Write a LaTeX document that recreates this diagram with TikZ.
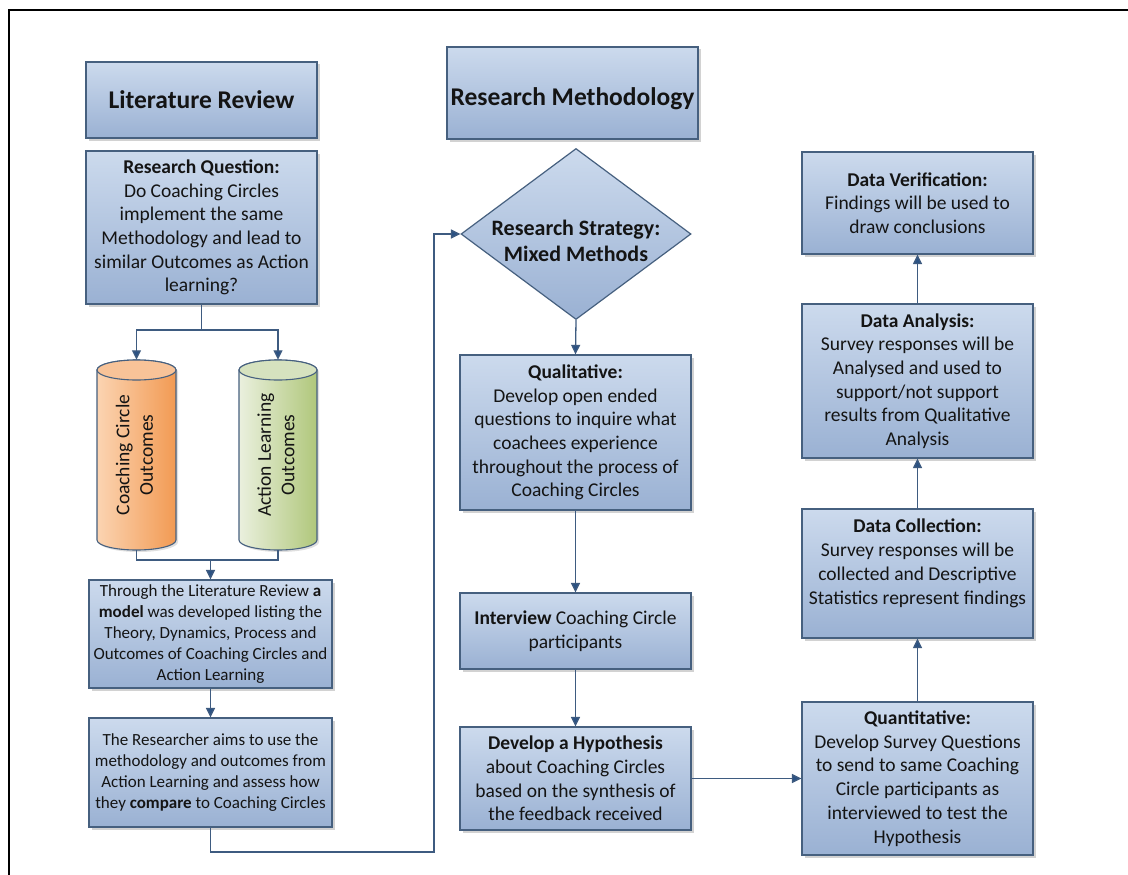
\documentclass[tikz,border=0pt]{standalone}
\usepackage{fontspec}
\usepackage{graphicx}
\setmainfont{Carlito}
\usetikzlibrary{arrows.meta,shapes.geometric,shadows,calc}

\definecolor{boxtop}{HTML}{CCDAED}
\definecolor{boxbot}{HTML}{9AB1D3}
\definecolor{edge}{HTML}{46607F}
\definecolor{wire}{HTML}{3E5B80}
\definecolor{tipc}{HTML}{2B5284}
\definecolor{txt}{HTML}{141414}
\definecolor{orL}{HTML}{FBD4B2}
\definecolor{orD}{HTML}{F29A53}
\definecolor{orC}{HTML}{F8C398}
\definecolor{grL}{HTML}{EAF0DE}
\definecolor{grD}{HTML}{B0C77B}
\definecolor{grC}{HTML}{D6E2BF}

% cylinder body: centre x, half width, light side, dark side, cap colour
\newcommand\cylshape[5]{%
  \path[draw=edge,line width=1.1pt,left color=#3,right color=#4,
        drop shadow={shadow xshift=2pt,shadow yshift=-2pt,opacity=0.25}]
    (#1-#2,370) -- (#1-#2,540) arc[start angle=180,end angle=0,x radius=#2,y radius=10]
    -- (#1+#2,370) arc[start angle=0,end angle=-180,x radius=#2,y radius=10] -- cycle;
  \path[draw=edge,line width=1.1pt,fill=#5] (#1,370) ellipse[x radius=#2,y radius=10];
}
% title text lowered inside its box, keeping the box's nominal height and depth
\newcommand\lowertitle[2]{\raisebox{-#1}[18pt][6pt]{#2}}

\tikzset{
  box/.style={draw=edge,line width=1.2pt,top color=boxtop,bottom color=boxbot,
    drop shadow={shadow xshift=2.5pt,shadow yshift=-2.5pt,opacity=0.35},
    align=center,inner sep=2pt,text=txt,
    font=\fontsize{19.5}{23.7}\selectfont},
  titlebox/.style={box,font=\fontsize{25.5}{30}\selectfont\bfseries},
  smallbox/.style={box,font=\fontsize{17}{20.8}\selectfont},
  cylnode/.style={inner sep=0pt,minimum width=79pt,minimum height=190pt,text=txt,
    font=\fontsize{19.5}{23.5}\selectfont},
  arr/.style={draw=wire,line width=1.3pt,-{Triangle[length=9.5pt,width=9pt,fill=tipc]}},
  wireline/.style={draw=wire,line width=1.3pt},
}

\begin{document}
\begin{tikzpicture}[x=1pt,y=-1pt]
\useasboundingbox (0,0) rectangle (1128,875);
\fill[white] (0,0) rectangle (1128,875);

% outer frame (runs past the page on the right and bottom)
\draw[line width=2.2pt] (9,880) -- (9,10) -- (1135,10);

% ---- left column ----
\node[titlebox,minimum width=231pt,minimum height=76pt] (litrev) at (201.5,100) {\lowertitle{2pt}{Literature Review}};
\node[box,minimum width=231pt,minimum height=153pt] (rq) at (201.5,227.5)
  {\textbf{Research Question:}\\Do Coaching Circles\\implement the same\\Methodology and lead to\\similar Outcomes as Action\\learning?};

\cylshape{136.5}{39.5}{orL}{orD}{orC}
\cylshape{278}{39}{grL}{grD}{grC}
\node[cylnode] (cylA) at (136.5,455)
  {\rotatebox{90}{\begin{tabular}{@{}c@{}}Coaching Circle\\Outcomes\end{tabular}}};
\node[cylnode,minimum width=78pt] (cylB) at (278,455)
  {\rotatebox{90}{\begin{tabular}{@{}c@{}}Action Learning\\Outcomes\end{tabular}}};

\node[smallbox,minimum width=243pt,minimum height=108pt] (model) at (210.5,634)
  {Through the Literature Review \textbf{a}\\\textbf{model} was developed listing the\\Theory, Dynamics, Process and\\Outcomes of Coaching Circles and\\Action Learning};
\node[smallbox,minimum width=243pt,minimum height=109pt] (aim) at (210.5,772.5)
  {The Researcher aims to use the\\methodology and outcomes from\\Action Learning and assess how\\they \textbf{compare} to Coaching Circles};

% ---- middle column ----
\node[titlebox,minimum width=251pt,minimum height=92pt] (resmeth) at (572.5,93) {\lowertitle{7pt}{Research Methodology}};
\node[diamond,draw=edge,line width=1.2pt,top color=boxtop,bottom color=boxbot,
      inner sep=0pt,minimum width=230pt,minimum height=171pt] (strat) at (576,234) {};
\node[align=center,text=txt,font=\fontsize{22}{26}\selectfont\bfseries] (strattxt) at (576,241)
  {Research Strategy:\\Mixed Methods};

\node[box,minimum width=231pt,minimum height=155pt] (qual) at (575.5,432.5)
  {\textbf{Qualitative:}\\Develop open ended\\questions to inquire what\\coachees experience\\throughout the process of\\Coaching Circles};
\node[box,minimum width=231pt,minimum height=76pt] (interview) at (575.5,631)
  {\textbf{Interview} Coaching Circle\\participants};
\node[box,minimum width=231pt,minimum height=103pt] (hyp) at (575.5,778.5)
  {\textbf{Develop a Hypothesis}\\about Coaching Circles\\based on the synthesis of\\the feedback received};

% ---- right column ----
\node[box,minimum width=231pt,minimum height=153pt] (quant) at (917.5,778.5)
  {\textbf{Quantitative:}\\Develop Survey Questions\\to send to same Coaching\\Circle participants as\\interviewed to test the\\Hypothesis};
\node[box,minimum width=231pt,minimum height=129pt] (coll) at (917.5,573.5)
  {\textbf{Data Collection:}\\Survey responses will be\\collected and Descriptive\\Statistics represent findings\\\mbox{}};
\node[box,minimum width=231pt,minimum height=154pt] (anal) at (917.5,381)
  {\textbf{Data Analysis:}\\Survey responses will be\\Analysed and used to\\support/not support\\results from Qualitative\\Analysis};
\node[box,minimum width=231pt,minimum height=102pt] (verif) at (917.5,203)
  {\textbf{Data Verification:}\\Findings will be used to\\draw conclusions};

% ---- connectors ----
\coordinate (split) at (201.5,330);
\coordinate (merge) at (210.5,560);
\coordinate (loopA) at (434,852);

\draw[wireline] (rq.south) -- (split);
\draw[arr] (split) -| (cylA.north);
\draw[arr] (split) -| (cylB.north);
\draw[wireline] (cylA.south) |- (merge);
\draw[wireline] (cylB.south) |- (merge);
\draw[arr] (merge) -- (model.north);
\draw[arr] (model.south) -- (aim.north);
\draw[arr] (aim.south) |- (loopA) |- (strat.west);
\draw[arr] (strat.south) -- (qual.north);
\draw[arr] (qual.south) -- (interview.north);
\draw[arr] (interview.south) -- (hyp.north);
\draw[arr] (hyp.east) -- (quant.west);
\draw[arr] (quant.north) -- (coll.south);
\draw[arr] (coll.north) -- (anal.south);
\draw[arr] (anal.north) -- (verif.south);
\end{tikzpicture}
\end{document}
